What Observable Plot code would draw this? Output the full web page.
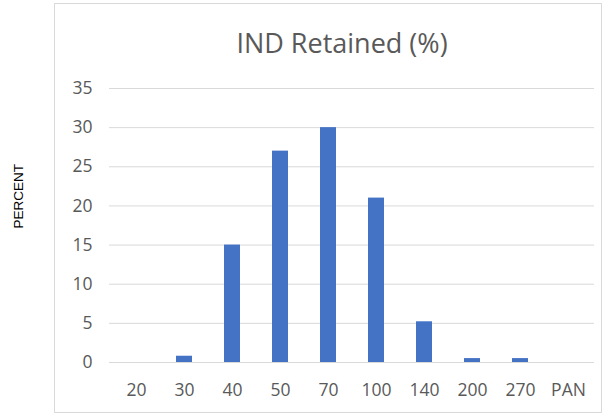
<!DOCTYPE html>
<html><head><meta charset="utf-8">
<script src="https://cdn.jsdelivr.net/npm/d3@7"></script>
<script src="https://cdn.jsdelivr.net/npm/@observablehq/plot@0.6"></script>
<style>
html,body{margin:0;padding:0;background:#fff;}
#wrap{position:relative;width:613px;height:415px;font-family:"Open Sans",sans-serif;}
#box{position:absolute;left:54px;top:3px;width:548px;height:410px;border:1px solid #d9d9d9;box-sizing:border-box;}
#chart{position:absolute;left:0;top:0;}
</style></head>
<body>
<div id="wrap"><div id="box"></div><div id="chart"></div></div>
<script>
const categories = ["20","30","40","50","70","100","140","200","270","PAN"];
const values = [0, 0.8, 15, 27, 30, 21, 5.2, 0.5, 0.5, 0];
const yTicks = [0,5,10,15,20,25,30,35];
const title = "IND Retained (%)";
const yLabel = "PERCENT";

const data = categories.map((c,i)=>({cat:c, v:values[i]}));

const chart = Plot.plot({
  width: 613, height: 415,
  marginLeft: 109, marginRight: 19, marginTop: 88, marginBottom: 53,
  style: {fontFamily: "'Open Sans', sans-serif", background: "transparent", color: "#595959"},
  x: {domain: categories, paddingInner: 0.67, paddingOuter: 0.335, align: 0.5, label: null},
  y: {domain: [0,35], label: null},
  marks: [
    Plot.ruleY(yTicks, {stroke: "#d9d9d9", strokeWidth: 1}),
    Plot.barY(data, {x: "cat", y: "v", fill: "#4472c4"}),
    Plot.axisY({ticks: yTicks, tickSize: 0, tickPadding: 17, fontSize: 17.5, label: null, fill: "#595959"}),
    Plot.axisX({tickSize: 0, tickPadding: 21, fontSize: 17.5, label: null, fill: "#595959"}),
    Plot.text([title], {frameAnchor: "top", lineAnchor: "top", text: d=>d, dy: -55, dx: -10, fontSize: 27, fill: "#595959"}),
    Plot.text([yLabel], {frameAnchor: "left", text: d=>d, rotate: -90, dx: -91, dy: 3, fontSize: 13.5, fontWeight: "normal", fill: "#000", fontFamily: "'Liberation Sans', Arial, sans-serif"})
  ]
});
document.getElementById("chart").appendChild(chart);
</script>
</body></html>
